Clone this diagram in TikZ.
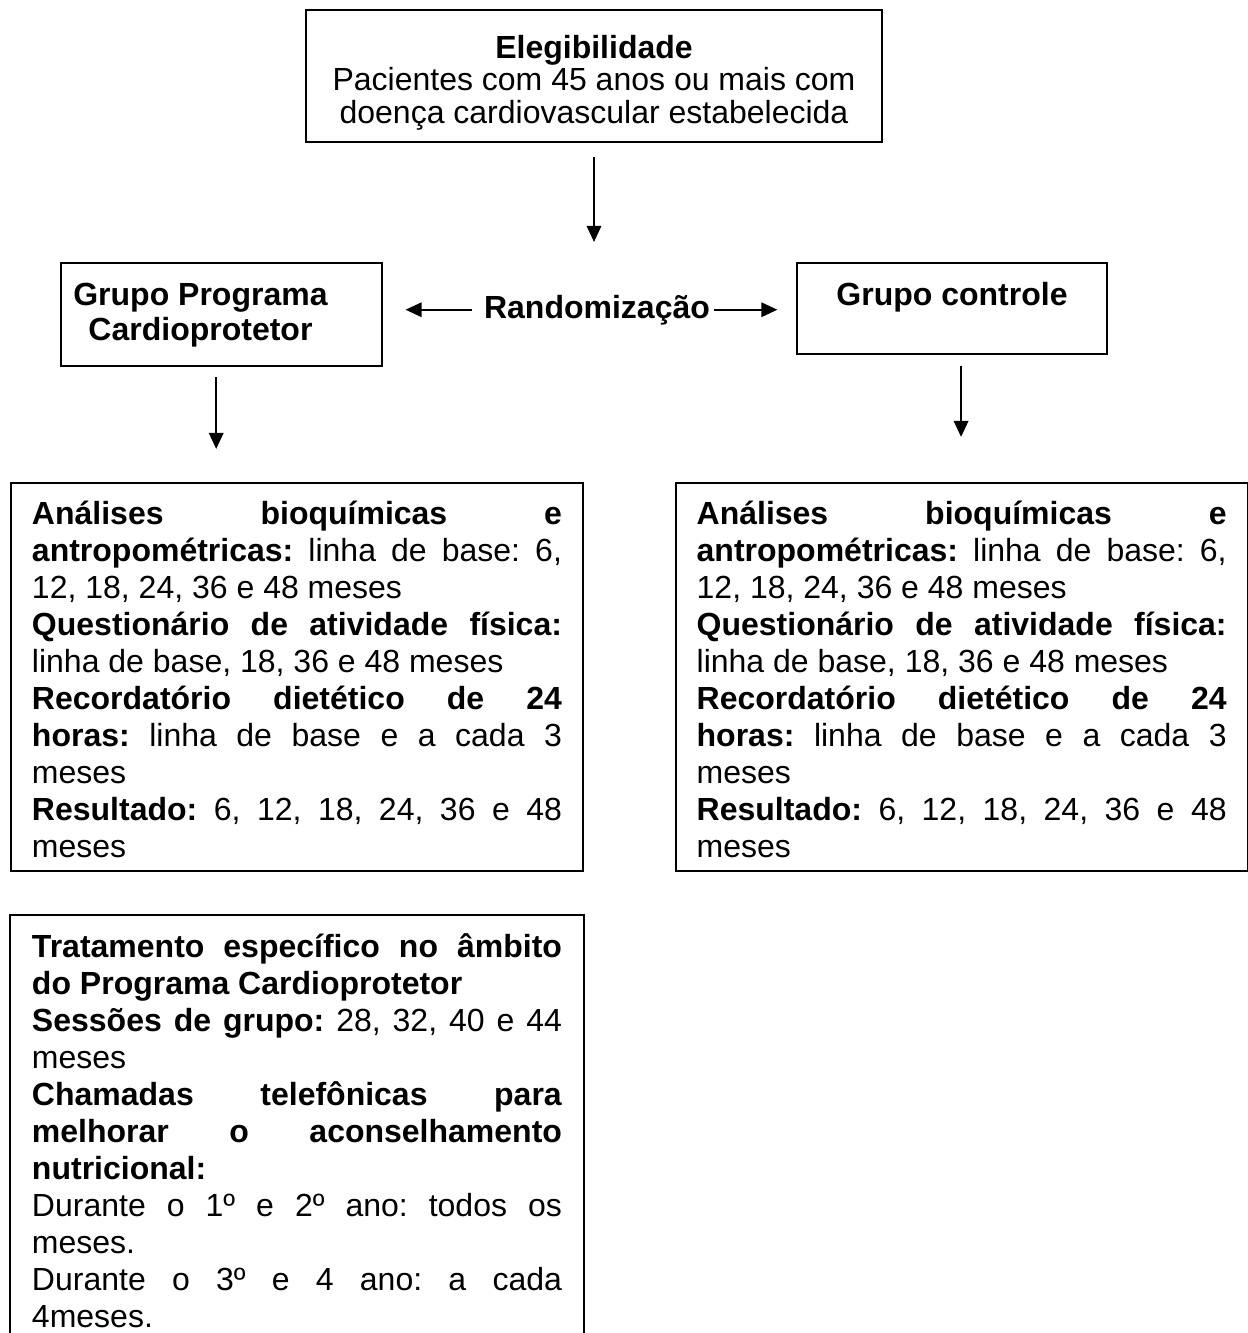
\documentclass[tikz,border=0pt]{standalone}
\usepackage{fontspec}
\setmainfont{Liberation Sans}
\usepackage{tikz}
\usetikzlibrary{arrows.meta,positioning}
\hyphenpenalty=10000
\exhyphenpenalty=10000
\tolerance=10000
\hbadness=10000
\frenchspacing
\tikzset{
  block/.style={draw, line width=0.75pt, inner sep=0pt, align=center, font=\bfseries\fontsize{12}{13.125}\selectfont},
  topblock/.style={draw, line width=0.75pt, inner sep=0pt, align=center, minimum width=216pt, text height=42.4pt, text depth=7.1pt, font=\fontsize{12}{12.2}\selectfont},
  txtblock/.style={line width=0.75pt, inner xsep=7.875pt, inner ysep=0pt, text width=198.75pt, align=justify, text height=15.5pt, font=\fontsize{12}{13.875}\selectfont},
  arr/.style={-{Triangle[length=6pt,width=5.4pt]}, line width=0.75pt},
}
\newcommand{\avaliacoes}{%
\textbf{Análises bioquímicas e}\linebreak \textbf{antropométricas:} linha de base: 6,\linebreak 12, 18, 24, 36 e 48 meses\par
\textbf{Questionário de atividade física:}\linebreak linha de base, 18, 36 e 48 meses\par
\textbf{Recordatório dietético de 24}\linebreak \textbf{horas:} linha de base e a cada 3\linebreak meses\par
\textbf{Resultado:} 6, 12, 18, 24, 36 e 48\linebreak meses}

\begin{document}
\begin{tikzpicture}[x=0.375pt,y=-0.375pt]
\useasboundingbox (0,0) rectangle (1248,1333);
% elegibilidade
\node[topblock, anchor=north] (eleg) at (594,9) {\textbf{Elegibilidade}\\Pacientes com 45 anos ou mais com\\doença cardiovascular estabelecida};
% grupos
\node[block, anchor=north west, minimum width=120.4pt, text height=29pt, text depth=9.6pt] (prog) at (60,262) {Grupo Programa\hspace*{15.8pt}\\Cardioprotetor\hspace*{15.8pt}};
\node[block, anchor=north west, minimum width=116.25pt, text height=15.9pt, text depth=18.2pt] (ctrl) at (796,262) {Grupo controle};
\node[anchor=base, inner sep=0pt, font=\bfseries\fontsize{12}{13.125}\selectfont] (rand) at (597,318) {Randomização};
% avaliacoes
\node[txtblock, draw, anchor=north west, text depth=130pt] (avalP) at (10,482) {\avaliacoes};
\node[txtblock, draw, right=34pt of avalP, text depth=130pt] (avalC) {\avaliacoes};
\node[txtblock, below=16.1pt of avalP, text depth=142pt] (trat) {%
\textbf{Tratamento específico no âmbito}\linebreak \textbf{do Programa Cardioprotetor}\par
\textbf{Sessões de grupo:} 28, 32, 40 e 44\linebreak meses\par
\textbf{Chamadas telefônicas para}\linebreak \textbf{melhorar o aconselhamento}\linebreak \textbf{nutricional:}\par
Durante o 1º e 2º ano: todos os\linebreak meses.\par
Durante o 3º e 4 ano: a cada\linebreak 4meses.};
\draw[line width=0.75pt] (trat.south west) |- (trat.north east) -- (trat.south east);
% setas
\coordinate[below=37.1pt of eleg] (elegD);
\draw[arr, shorten <=5.25pt] (eleg.south) -- (elegD);
\coordinate[left=29.25pt of rand] (randE);
\coordinate[right=25.1pt of rand] (randD);
\draw[arr, shorten <=4.5pt] (rand.west) -- (randE);
\draw[arr, shorten <=1.2pt] (rand.east) -- (randD);
\coordinate[below=30.75pt of prog, xshift=-2pt] (progD);
\draw[arr, shorten <=3.75pt] (prog.south -| progD) -- (progD);
\coordinate[below=30.75pt of ctrl, xshift=3.4pt] (ctrlD);
\draw[arr, shorten <=4.1pt] (ctrl.south -| ctrlD) -- (ctrlD);
\end{tikzpicture}
\end{document}
